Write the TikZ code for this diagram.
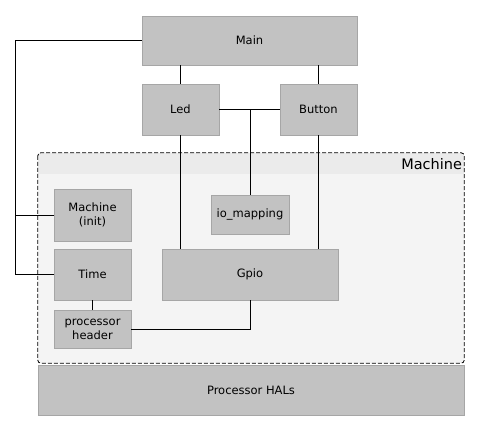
\documentclass[tikz,border=0pt]{standalone}
\usepackage{fontspec}
\setmainfont{DejaVu Sans}
\usepackage{tikz}
\usetikzlibrary{positioning}

\definecolor{boxgray}{HTML}{C2C2C2}
\definecolor{boxedge}{HTML}{A6A6A6}
\definecolor{machinefill}{HTML}{F4F4F4}
\definecolor{machineband}{HTML}{EBEBEB}

\tikzset{
    block/.style={draw=boxedge, fill=boxgray, line width=0.8pt, inner sep=0pt,
        align=center, font=\fontsize{11.5}{14}\selectfont},
    link/.style={draw=black, line width=0.8pt}
}

\begin{document}
\begin{tikzpicture}[x=1pt, y=-1pt]
        \useasboundingbox (0, 0) rectangle (479, 431);

        % Machine area
        \node[fill=machinefill, rounded corners=3pt, minimum width=426pt, minimum height=210pt] (machine) at (251, 258) {};
        \begin{scope}
            \clip[rounded corners=3pt] (machine.north west) rectangle (machine.south east);
            \fill[machineband] (machine.north west) rectangle ([yshift=-21pt]machine.north east);
        \end{scope}
        \draw[dash pattern=on 4pt off 2pt, line width=0.8pt, rounded corners=3pt] (machine.north west) rectangle (machine.south east);
        \node[anchor=east, inner sep=2pt, font=\fontsize{14.5}{16}\selectfont] (machinelabel) at ([yshift=-11pt]machine.north east) {Machine};

        % Blocks
        \node[block, minimum width=215pt, minimum height=49pt] (main) at (249.5, 40.5) {Main};
        \node[block, minimum width=77pt, minimum height=51pt] (led) at (180.5, 109.5) {Led};
        \node[block, minimum width=77pt, minimum height=51pt] (button) at (318.5, 109.5) {Button};
        \node[block, minimum width=77pt, minimum height=52pt] (init) at (92.5, 215) {Machine\\(init)};
        \node[block, minimum width=78pt, minimum height=39pt] (iomap) at (250, 214.5) {io\_mapping};
        \node[block, minimum width=77pt, minimum height=51pt] (time) at (92.5, 274.5) {Time};
        \node[block, minimum width=176pt, minimum height=51pt] (gpio) at (250, 274.5) {Gpio};
        \node[block, minimum width=77pt, minimum height=38pt] (header) at (92.5, 329) {processor\\header};
        \node[block, minimum width=426pt, minimum height=50pt] (hal) at (251, 390) {Processor HALs};

        % Connectors
        \coordinate (trunk) at (15, 40.5);
        \draw[link] (main.west) -- (trunk) |- (time.west);
        \draw[link] (init.west) -- (init.west -| trunk);
        \draw[link] (led.north) -- (led.north |- main.south);
        \draw[link] (button.north) -- (button.north |- main.south);
        \draw[link] (led.east) -- (button.west);
        \draw[link] (iomap.north) -- (iomap.north |- led.east);
        \draw[link] (led.south) -- (led.south |- gpio.north);
        \draw[link] (button.south) -- (button.south |- gpio.north);
        \draw[link] (time.south) -- (header.north);
        \draw[link] (gpio.south) |- (header.east);
    \end{tikzpicture}
\end{document}
